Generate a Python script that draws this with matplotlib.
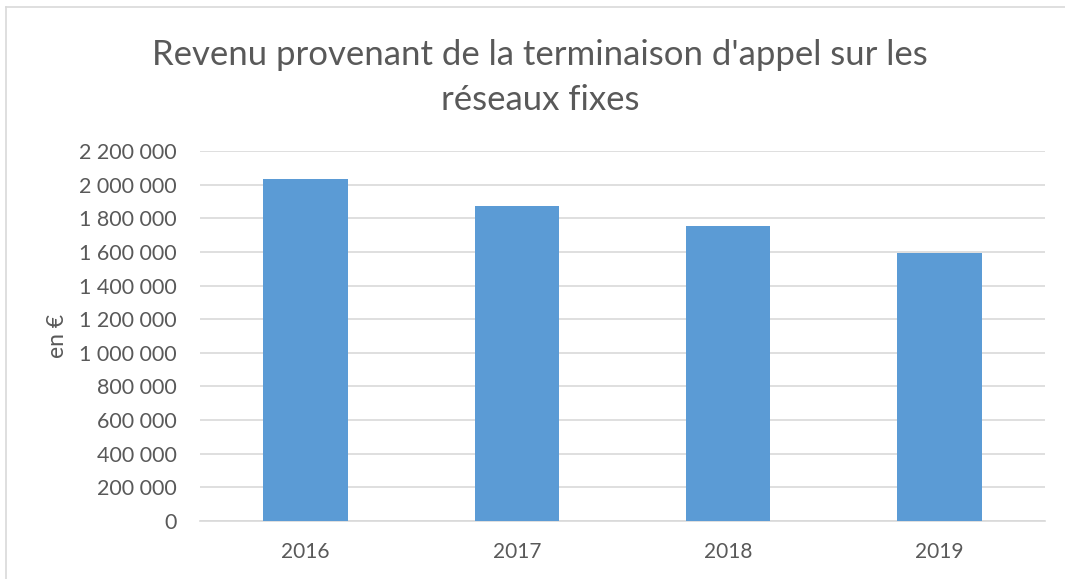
import matplotlib.pyplot as plt
from matplotlib.lines import Line2D
from matplotlib.ticker import FuncFormatter

annees = ["2016", "2017", "2018", "2019"]
revenu = [2035000, 1872000, 1753000, 1591000]

W, H = 1065, 579
gris_texte = "#595959"
bleu = "#5B9BD5"

plt.rcParams['font.family'] = ['Lato', 'DejaVu Sans']

fig = plt.figure(figsize=(W / 100, H / 100), dpi=100)
ax = fig.add_axes([200 / W, 1 - 521 / H, 845 / W, 370 / H])

x = range(len(annees))
ax.bar(x, revenu, width=0.4, color=bleu, zorder=3)
ax.set_xlim(-0.5, len(annees) - 0.5)
ax.set_ylim(0, 2200000)
ax.set_yticks(range(0, 2200001, 200000))
ax.yaxis.set_major_formatter(FuncFormatter(lambda v, p: f"{int(v):,}".replace(",", " ")))
ax.set_xticks(list(x))
ax.set_xticklabels(annees)

ax.grid(axis="y", color="#D9D9D9", linewidth=1.2, zorder=0)
for s in ["top", "right", "left"]:
    ax.spines[s].set_visible(False)
ax.spines["bottom"].set_color("#D9D9D9")
ax.spines["bottom"].set_linewidth(1.2)
ax.tick_params(axis="both", length=0, colors=gris_texte, labelsize=15)
ax.tick_params(axis="y", labelsize=15.5, pad=17)
ax.tick_params(axis="x", pad=15)

ax.set_ylabel("en €", fontsize=16.5, color=gris_texte, labelpad=8)

fig.text(540 / W, 1 - 55 / H, "Revenu provenant de la terminaison d'appel sur les",
         ha="center", va="center", fontsize=25, color=gris_texte)
fig.text(540 / W, 1 - 100 / H, "réseaux fixes",
         ha="center", va="center", fontsize=25, color=gris_texte)

# cadre du graphique
fig.add_artist(Line2D([6 / W, 1], [1 - 7 / H, 1 - 7 / H], color="#D9D9D9", linewidth=1.2))
fig.add_artist(Line2D([6 / W, 6 / W], [0, 1 - 7 / H], color="#D9D9D9", linewidth=1.2))

fig.savefig("out.png", dpi=100)
